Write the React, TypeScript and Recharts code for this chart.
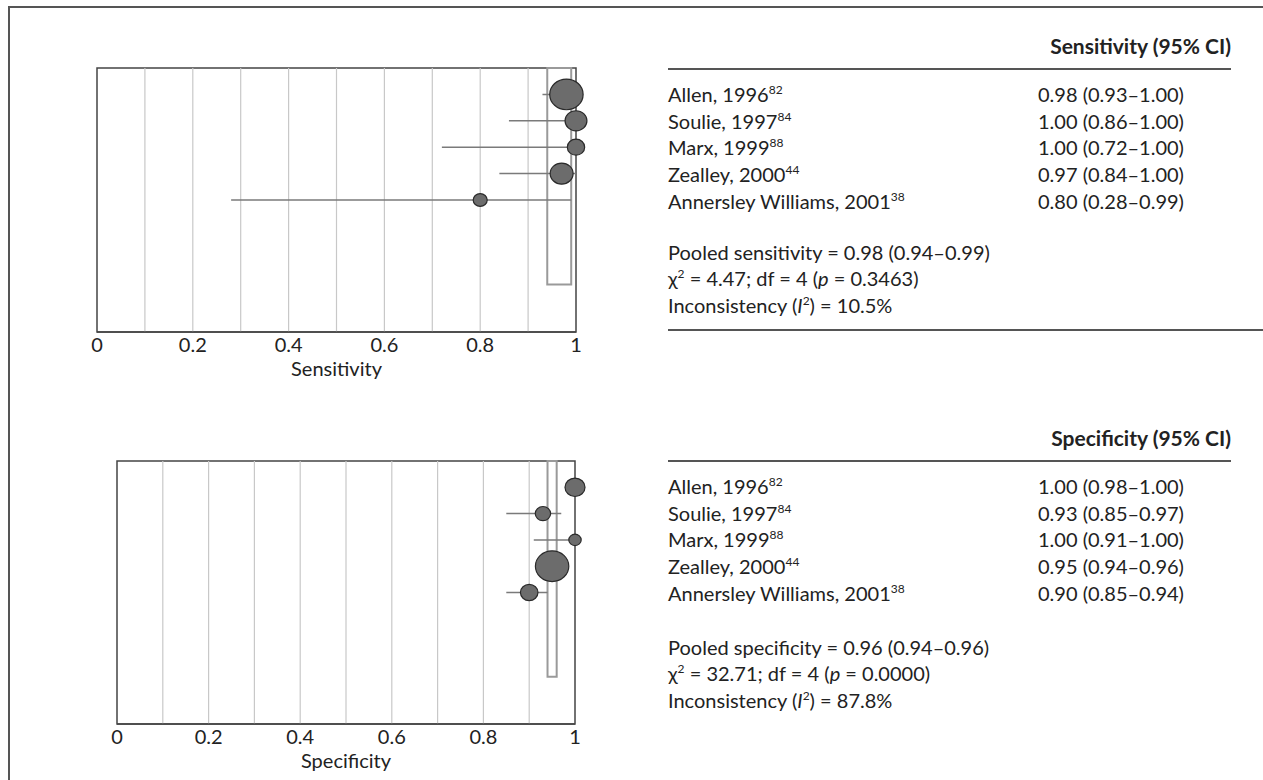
import React from 'react';
import { ScatterChart, Scatter, XAxis, YAxis, ErrorBar, ReferenceArea, ReferenceLine } from 'recharts';

// study labels and reference numbers
const studies = ['Allen, 1996', 'Soulie, 1997', 'Marx, 1999', 'Zealley, 2000', 'Annersley Williams, 2001'];
const refNumbers = ['82', '84', '88', '44', '38'];

// sensitivity per study
const sensEstimate = [0.98, 1.0, 1.0, 0.97, 0.8];
const sensLower = [0.93, 0.86, 0.72, 0.84, 0.28];
const sensUpper = [1.0, 1.0, 1.0, 1.0, 0.99];
const sensWeight = [42.6, 18.3, 11.5, 20.1, 7.5];

// specificity per study
const specEstimate = [1.0, 0.93, 1.0, 0.95, 0.9];
const specLower = [0.98, 0.85, 0.91, 0.94, 0.85];
const specUpper = [1.0, 0.97, 1.0, 0.96, 0.94];
const specWeight = [18.1, 10.7, 6.9, 50.4, 13.9];

// pooled [estimate, lower, upper]
const sensPooled = [0.98, 0.94, 0.99];
const specPooled = [0.96, 0.94, 0.96];

// heterogeneity [sensitivity, specificity]
const chiSquare = [4.47, 32.71];
const degreesFreedom = [4, 4];
const pValue = [0.3463, 0.0];
const inconsistency = [10.5, 87.8];

const xTicks = [0, 0.2, 0.4, 0.6, 0.8, 1];
const gridValues = [0.1, 0.2, 0.3, 0.4, 0.5, 0.6, 0.7, 0.8, 0.9];

const FONT = 'Lato, "Open Sans", sans-serif';
const TEXT = '#222';
const POOLED_BOX_DEPTH = 8.2;

const buildRows = (est: number[], lo: number[], hi: number[], w: number[]) =>
  est.map((e, i) => ({ x: e, y: i + 1, weight: w[i], err: [e - lo[i], hi[i] - e] }));

const fmt = (v: number) => v.toFixed(2);

const makeBubble = (maxR: number, maxW: number) => (props: any) => {
  const { cx, cy, payload } = props;
  const r = maxR * Math.sqrt(payload.weight / maxW);
  return <ellipse cx={cx} cy={cy} rx={r} ry={r * 0.92} fill="#6c6c6c" stroke="#2a2a2a" strokeWidth={1.2} />;
};

interface PlotProps {
  est: number[];
  lo: number[];
  hi: number[];
  weight: number[];
  pooled: number[];
  label: string;
  left: number;
  top: number;
  width: number;
  margin: { top: number; right: number; bottom: number; left: number };
}

const ForestPlot: React.FC<PlotProps> = ({ est, lo, hi, weight, pooled, label, left, top, width, margin }) => {
  const rows = buildRows(est, lo, hi, weight);
  const bubble = makeBubble(16.7, Math.max(...weight));
  return (
    <div style={{ position: 'absolute', left, top }}>
      <ScatterChart width={width} height={360} margin={margin}>
        <XAxis
          type="number"
          dataKey="x"
          domain={[0, 1]}
          ticks={xTicks}
          interval={0}
          tickLine={false}
          tickSize={5}
          tickMargin={1}
          height={48}
          axisLine={{ stroke: '#444', strokeWidth: 1.5 }}
          tick={{ fill: TEXT, fontSize: 20, fontFamily: FONT }}
          label={{ value: label, position: 'insideBottom', offset: 4, fill: TEXT, fontSize: 20, fontFamily: FONT }}
        />
        <YAxis type="number" dataKey="y" domain={[0, 10]} reversed hide />
        {gridValues.map((v) => (
          <ReferenceLine key={v} x={v} stroke="#c8c8c8" strokeWidth={1.2} />
        ))}
        <ReferenceArea x1={0} x2={1} y1={0} y2={10} fill="none" fillOpacity={0} stroke="#444" strokeWidth={1.5} />
        <ReferenceArea
          x1={pooled[1]}
          x2={pooled[2]}
          y1={0}
          y2={POOLED_BOX_DEPTH}
          fill="none"
          fillOpacity={0}
          stroke="#9a9a9a"
          strokeWidth={2}
        />
        <Scatter data={rows} isAnimationActive={false} shape={bubble}>
          <ErrorBar dataKey="err" direction="x" width={0} stroke="#7a7a7a" strokeWidth={1.5} />
        </Scatter>
      </ScatterChart>
    </div>
  );
};

const Sup: React.FC<{ children: React.ReactNode }> = ({ children }) => (
  <sup style={{ fontSize: 12, lineHeight: 0 }}>{children}</sup>
);

interface PanelProps {
  title: string;
  measure: string;
  est: number[];
  lo: number[];
  hi: number[];
  pooled: number[];
  idx: number;
  top: number;
  pooledTop: number;
  bottomRule?: boolean;
}

const StatsPanel: React.FC<PanelProps> = ({ title, measure, est, lo, hi, pooled, idx, top, pooledTop, bottomRule }) => {
  const line: React.CSSProperties = { position: 'absolute', lineHeight: '26.7px', whiteSpace: 'nowrap' };
  return (
    <>
      <div style={{ ...line, left: 668, width: 563, top: top + 33, textAlign: 'right', fontWeight: 700, fontSize: 21 }}>
        {title}
      </div>
      <div style={{ position: 'absolute', left: 668, width: 563, top: top + 68, borderTop: '2px solid #555' }} />
      {studies.map((s, i) => (
        <React.Fragment key={s}>
          <div style={{ ...line, left: 668, top: top + 81 + i * 26.7 }}>
            {s}
            <Sup>{refNumbers[i]}</Sup>
          </div>
          <div style={{ ...line, left: 1038, top: top + 81 + i * 26.7 }}>
            {`${fmt(est[i])} (${fmt(lo[i])}–${fmt(hi[i])})`}
          </div>
        </React.Fragment>
      ))}
      <div style={{ ...line, left: 668, top: pooledTop }}>
        {`Pooled ${measure} = ${fmt(pooled[0])} (${fmt(pooled[1])}–${fmt(pooled[2])})`}
      </div>
      <div style={{ ...line, left: 668, top: pooledTop + 26.3 }}>
        χ<Sup>2</Sup> = {fmt(chiSquare[idx])}; df = {degreesFreedom[idx]} (<i>p</i> = {pValue[idx].toFixed(4)})
      </div>
      <div style={{ ...line, left: 668, top: pooledTop + 52.6 }}>
        Inconsistency (<i>I</i>
        <Sup>2</Sup>) = {inconsistency[idx].toFixed(1)}%
      </div>
      {bottomRule && (
        <div style={{ position: 'absolute', left: 668, width: 595, top: top + 329, borderTop: '2px solid #555' }} />
      )}
    </>
  );
};

export default function App() {
  return (
    <div
      style={{
        position: 'absolute',
        left: 0,
        top: 0,
        width: 1263,
        height: 780,
        overflow: 'hidden',
        background: '#fff',
        fontFamily: FONT,
        fontSize: 20,
        color: TEXT,
      }}
    >
      <div
        style={{
          position: 'absolute',
          left: 8,
          top: 6,
          width: 1255,
          height: 774,
          borderTop: '2px solid #555',
          borderLeft: '2px solid #555',
          boxSizing: 'border-box',
        }}
      />
      <ForestPlot
        est={sensEstimate}
        lo={sensLower}
        hi={sensUpper}
        weight={sensWeight}
        pooled={sensPooled}
        label="Sensitivity"
        left={60}
        top={40}
        width={560}
        margin={{ top: 28, right: 44, bottom: 20, left: 37 }}
      />
      <ForestPlot
        est={specEstimate}
        lo={specLower}
        hi={specUpper}
        weight={specWeight}
        pooled={specPooled}
        label="Specificity"
        left={80}
        top={430}
        width={540}
        margin={{ top: 31, right: 45, bottom: 18, left: 37 }}
      />
      <StatsPanel
        title="Sensitivity (95% CI)"
        measure="sensitivity"
        est={sensEstimate}
        lo={sensLower}
        hi={sensUpper}
        pooled={sensPooled}
        idx={0}
        top={0}
        pooledTop={239}
        bottomRule
      />
      <StatsPanel
        title="Specificity (95% CI)"
        measure="specificity"
        est={specEstimate}
        lo={specLower}
        hi={specUpper}
        pooled={specPooled}
        idx={1}
        top={392}
        pooledTop={634}
      />
    </div>
  );
}
